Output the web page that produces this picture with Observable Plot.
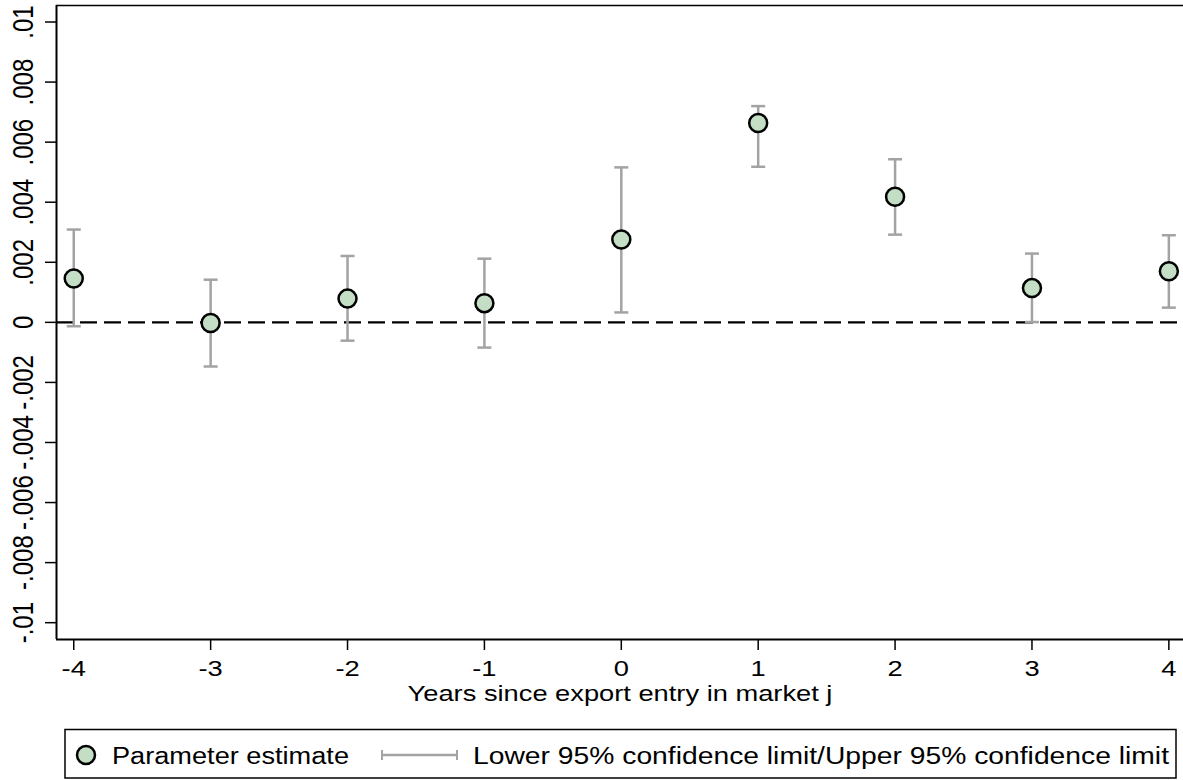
<!DOCTYPE html>
<html>
<head>
<meta charset="utf-8">
<script src="https://cdn.jsdelivr.net/npm/d3@7"></script>
<script src="https://cdn.jsdelivr.net/npm/@observablehq/plot@0.6"></script>
<style>
  html, body { margin: 0; padding: 0; background: #fff; }
  #chart { width: 1183px; height: 780px; overflow: hidden; font-family: "Liberation Sans", Arial, sans-serif; }
  #chart svg { display: block; }
</style>
</head>
<body>
<div id="chart"></div>
<script>
// ---- data ----
const years = [-4, -3, -2, -1, 0, 1, 2, 3, 4];
const estimate = [0.00146, -0.00002, 0.00079, 0.00064, 0.00276, 0.00664, 0.00418, 0.00114, 0.0017];
const lower = [-0.00013, -0.00147, -0.00061, -0.00084, 0.00033, 0.00518, 0.00292, 0.00001, 0.00049];
const upper = [0.00309, 0.00142, 0.00221, 0.00212, 0.00516, 0.0072, 0.00543, 0.00229, 0.0029];

const xTicks = [-4, -3, -2, -1, 0, 1, 2, 3, 4];
const xLabels = ["-4", "-3", "-2", "-1", "0", "1", "2", "3", "4"];
const yTicks = [-0.01, -0.008, -0.006, -0.004, -0.002, 0, 0.002, 0.004, 0.006, 0.008, 0.01];
const yLabels = ["-.01", "-.008", "-.006", "-.004", "-.002", "0", ".002", ".004", ".006", ".008", ".01"];
const xDomain = [-4.126, 4.107];
const yDomain = [-0.01056, 0.01055];

const xTitle = "Years since export entry in market j";
const legendLabels = ["Parameter estimate", "Lower 95% confidence limit/Upper 95% confidence limit"];

const rows = years.map((x, i) => ({x, est: estimate[i], lo: lower[i], hi: upper[i]}));

const gray = "#a3a3a3";
const green = "#c3dec4";
const stretch = 1.24;

const capSymbol = {
  draw(context, size) {
    const r = Math.sqrt(size / Math.PI);
    context.moveTo(-r, 0);
    context.lineTo(r, 0);
  }
};

const plot = Plot.plot({
  width: 1183,
  height: 720,
  marginTop: 5,
  marginBottom: 81,
  marginLeft: 56,
  marginRight: 0,
  style: {fontFamily: "'Liberation Sans', Arial, sans-serif", background: "#fff", color: "#000", overflow: "visible"},
  x: {domain: xDomain},
  y: {domain: yDomain},
  marks: [
    Plot.ruleY([0], {stroke: "#000", strokeWidth: 2.3, strokeDasharray: "17,7"}),
    Plot.ruleX(rows, {x: "x", y1: "lo", y2: "hi", stroke: gray, strokeWidth: 2.5}),
    Plot.dot(rows, {x: "x", y: "lo", symbol: capSymbol, r: 7, stroke: gray, strokeWidth: 2.5, fill: "none"}),
    Plot.dot(rows, {x: "x", y: "hi", symbol: capSymbol, r: 7, stroke: gray, strokeWidth: 2.5, fill: "none"}),
    Plot.dot(rows, {x: "x", y: "est", r: 9, fill: green, stroke: "#000", strokeWidth: 2.5}),
    Plot.ruleX([xDomain[0]], {stroke: "#000", strokeWidth: 2}),
    Plot.ruleY([yDomain[0]], {stroke: "#000", strokeWidth: 2}),
    Plot.ruleY([yDomain[1]], {stroke: "#000", strokeWidth: 1.6}),
    Plot.axisX({ticks: xTicks, tickFormat: (d) => xLabels[xTicks.indexOf(d)], tickSize: 11, tickPadding: 10, fontSize: 22, strokeWidth: 1.5, label: null}),
    Plot.axisY({ticks: yTicks, tickFormat: () => "", tickSize: 11, tickPadding: 0, strokeWidth: 1.5, label: null}),
    Plot.text(yTicks, {y: d => d, text: (d, i) => yLabels[i], frameAnchor: "left", textAnchor: "middle", dx: -33, rotate: -90, fontSize: 24, fill: "#000"}),
    Plot.text([xTitle], {frameAnchor: "bottom", dy: 61, fontSize: 22, fill: "#000"})
  ]
});

// horizontal stretch of glyphs as in the reference
d3.select(plot).selectAll("text").each(function() {
  const t = this.getAttribute("transform") || "";
  if (t.includes("rotate(")) {
    this.setAttribute("transform", t.replace("rotate(", `scale(${stretch},1) rotate(`));
  } else {
    this.setAttribute("transform", `${t} scale(${stretch},1)`);
  }
});

document.getElementById("chart").appendChild(plot);

// ---- legend ----
const leg = d3.select("#chart").append("svg")
  .attr("width", 1183).attr("height", 60)
  .style("font-family", "'Liberation Sans', Arial, sans-serif");
leg.append("rect").attr("x", 65).attr("y", 9.5).attr("width", 1111).attr("height", 48.5)
  .attr("fill", "none").attr("stroke", "#000").attr("stroke-width", 1.5);
leg.append("circle").attr("cx", 86).attr("cy", 35).attr("r", 9)
  .attr("fill", green).attr("stroke", "#000").attr("stroke-width", 2.5);
leg.append("text").attr("x", 112).attr("y", 44).attr("font-size", 23)
  .attr("textLength", 237).attr("lengthAdjust", "spacingAndGlyphs").text(legendLabels[0]);
leg.append("line").attr("x1", 382).attr("x2", 457).attr("y1", 35).attr("y2", 35)
  .attr("stroke", gray).attr("stroke-width", 2.5);
leg.append("line").attr("x1", 382).attr("x2", 382).attr("y1", 30).attr("y2", 40)
  .attr("stroke", gray).attr("stroke-width", 2);
leg.append("line").attr("x1", 457).attr("x2", 457).attr("y1", 30).attr("y2", 40)
  .attr("stroke", gray).attr("stroke-width", 2);
leg.append("text").attr("x", 473).attr("y", 44).attr("font-size", 23)
  .attr("textLength", 696).attr("lengthAdjust", "spacingAndGlyphs").text(legendLabels[1]);
</script>
</body>
</html>
